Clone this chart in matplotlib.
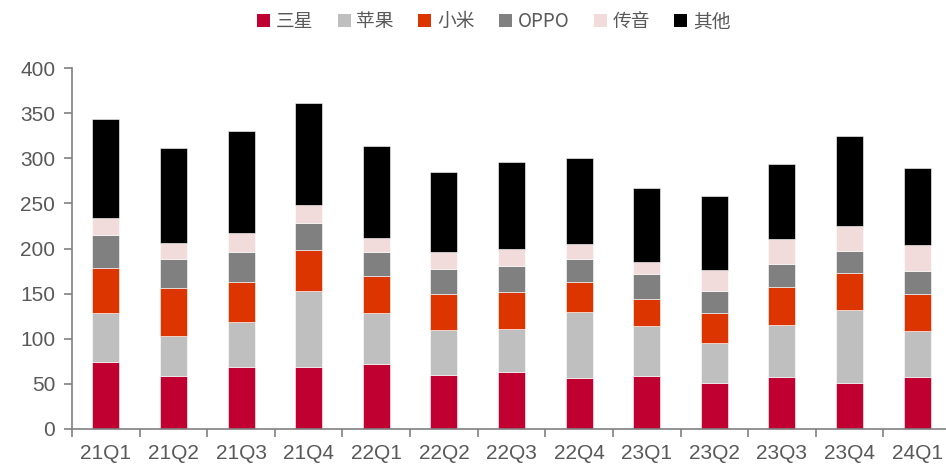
import numpy as np
import matplotlib
matplotlib.use('Agg')
import matplotlib.pyplot as plt
from matplotlib.patches import Patch

plt.rcParams['font.family'] = ['Liberation Sans', 'Noto Sans CJK SC', 'DejaVu Sans']

quarters = ['21Q1', '21Q2', '21Q3', '21Q4', '22Q1', '22Q2', '22Q3', '22Q4',
            '23Q1', '23Q2', '23Q3', '23Q4', '24Q1']
samsung = [74, 59, 69, 69, 72, 60, 63, 57, 59, 51, 58, 51, 58]
apple   = [55, 44, 50, 84, 57, 50, 48, 73, 55, 44, 57, 81, 51]
xiaomi  = [49, 53, 44, 45, 40, 40, 41, 33, 30, 33, 42, 41, 41]
oppo    = [37, 32, 33, 30, 27, 27, 29, 25, 28, 25, 26, 24, 25]
transsion = [19, 18, 21, 20, 16, 19, 18, 17, 13, 23, 27, 28, 29]
others  = [110, 105, 113, 113, 102, 89, 97, 95, 82, 82, 84, 100, 85]

series = [('三星', samsung, '#C00030'),
          ('苹果', apple, '#BFBFBF'),
          ('小米', xiaomi, '#DC3500'),
          ('OPPO', oppo, '#808080'),
          ('传音', transsion, '#F2DCDB'),
          ('其他', others, '#000000')]

fig = plt.figure(figsize=(9.46, 4.66), dpi=100)
ax = fig.add_axes([72 / 946, 37 / 466, 879 / 946, 361 / 466])

x = np.arange(len(quarters))
bottom = np.zeros(len(quarters))
for name, vals, color in series:
    ax.bar(x, vals, width=0.4, bottom=bottom, color=color, label=name,
           edgecolor='white', linewidth=0.4)
    bottom += np.array(vals)

ax.set_xlim(-0.5, len(quarters) - 0.5)
ax.set_ylim(0, 400)
ax.set_yticks(range(0, 401, 50))
ax.set_xticks(x)
ax.set_xticklabels(quarters)
ax.set_xticks(np.arange(-0.5, len(quarters), 1), minor=True)
ax.tick_params(axis='x', which='major', length=0, pad=11)
ax.tick_params(axis='x', which='minor', length=6, width=1.2, color='#808080', direction='out')
ax.tick_params(axis='y', length=6, width=1.2, color='#808080', direction='out', pad=6)
ax.tick_params(labelsize=15, labelcolor='#595959')

for s in ['top', 'right']:
    ax.spines[s].set_visible(False)
for s in ['left', 'bottom']:
    ax.spines[s].set_color('#808080')
    ax.spines[s].set_linewidth(1.2)

handles = [Patch(facecolor=c, label=n) for n, _, c in series]
fig.legend(handles=handles, loc='upper center', bbox_to_anchor=(0.522, 1.012), ncol=6,
           frameon=False, handlelength=0.7, handleheight=0.7,
           handletextpad=0.3, columnspacing=1.3, labelcolor='#595959',
           prop={'family': ['Noto Sans CJK SC', 'DejaVu Sans'], 'size': 13.5})

fig.savefig('out.png', dpi=100)
